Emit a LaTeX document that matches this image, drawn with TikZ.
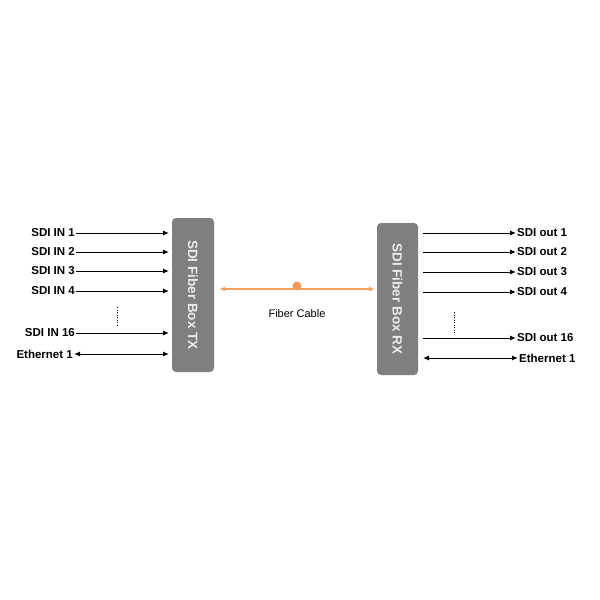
\documentclass[tikz,border=0pt]{standalone}
\usepackage{fontspec}
\setmainfont{Liberation Sans}
\usetikzlibrary{arrows.meta}
\definecolor{boxgray}{HTML}{7F7F7F}
\definecolor{fiber}{HTML}{F0A060}
\begin{document}
\begin{tikzpicture}[x=1pt,y=-1pt,
  lbl/.style={font=\fontsize{11.5}{13}\selectfont\bfseries, inner sep=1pt},
  sig/.style={-{Latex[length=6pt,width=5pt]}, line width=1pt, black},
  bsig/.style={{Latex[length=6pt,width=5pt]}-{Latex[length=6pt,width=5pt]}, line width=1pt, black},
  unit/.style={fill=boxgray, rounded corners=4pt, draw=none},
  unittext/.style={font=\fontsize{13.5}{15}\selectfont\bfseries, text=white!92!black, rotate=-90}]
\useasboundingbox (0,0) rectangle (600,600);
% boxes
\fill[unit] (172,218) rectangle (214,372);
\node[unittext] (tx) at (193,295) {SDI Fiber Box TX};
\fill[unit] (377,223) rectangle (418,375);
\node[unittext] (rx) at (397.5,299) {SDI Fiber Box RX};
% left inputs
\foreach \n/\t/\y in {i1/SDI IN 1/233, i2/SDI IN 2/252, i3/SDI IN 3/271, i4/SDI IN 4/291, i16/SDI IN 16/333}{
  \node[lbl, anchor=east] (\n) at (76,\y) {\t};
  \coordinate (\n e) at (169,\y);
  \draw[sig] (\n.east) -- (\n e);
}
\node[lbl, anchor=east] (eth) at (74,354) {Ethernet 1};
\coordinate (ethe) at (169,354);
\draw[bsig] (eth.east) -- (ethe);
\coordinate (d1a) at (117,307); \coordinate (d1b) at (117,327);
\draw[line width=1pt, dash pattern=on 1pt off 1.5pt] (d1a) -- (d1b);
% right outputs
\foreach \n/\t/\y in {o1/SDI out 1/233, o2/SDI out 2/252, o3/SDI out 3/272, o4/SDI out 4/292, o16/SDI out 16/338}{
  \node[lbl, anchor=west] (\n) at (516,\y) {\t};
  \coordinate (\n s) at (423,\y);
  \draw[sig] (\n s) -- (\n.west);
}
\node[lbl, anchor=west] (oeth) at (518,358) {Ethernet 1};
\coordinate (oeths) at (423,358);
\draw[bsig] (oeths) -- (oeth.west);
\coordinate (d2a) at (454,312); \coordinate (d2b) at (454,333);
\draw[line width=1pt, dash pattern=on 1pt off 1.5pt] (d2a) -- (d2b);
% fiber
\coordinate (fa) at (219,289);
\coordinate (fb) at (375,289);
\draw[{Latex[length=6pt,width=5pt]}-{Latex[length=6pt,width=5pt]}, line width=1.5pt, fiber] (fa) -- (fb);
\node[circle, fill=fiber!95!red, inner sep=0pt, minimum size=9pt] (dot) at (297,286) {};
\node[font=\fontsize{11}{13}\selectfont] (fc) at (297,314) {Fiber Cable};
\end{tikzpicture}
\end{document}
